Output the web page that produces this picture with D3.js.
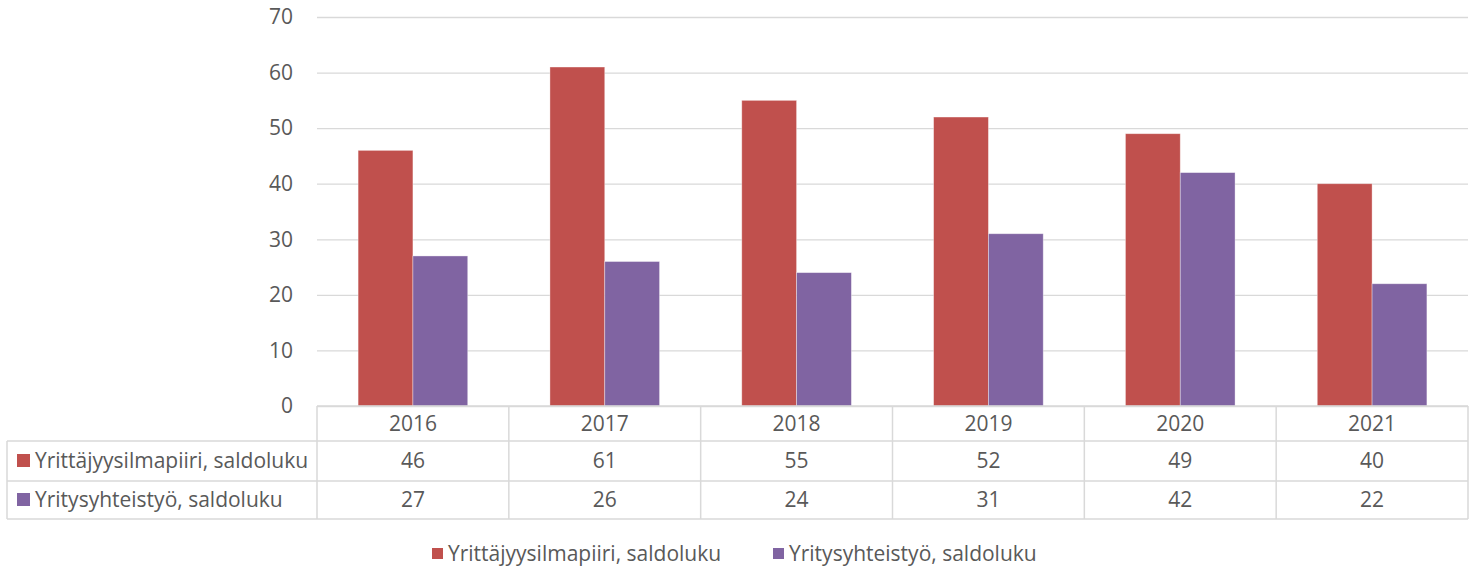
<!DOCTYPE html>
<html>
<head>
<meta charset="utf-8">
<script src="https://cdn.jsdelivr.net/npm/d3@7"></script>
<style>
  body { margin: 0; background: #fff; }
  svg text { font-family: "Open Sans", sans-serif; fill: #595959; }
</style>
</head>
<body>
<svg id="chart" width="1480" height="568"></svg>
<script>
// chart data
var years = ["2016", "2017", "2018", "2019", "2020", "2021"];
var seriesNames = ["Yrittäjyysilmapiiri, saldoluku", "Yritysyhteistyö, saldoluku"];
var ilmapiiri = [46, 61, 55, 52, 49, 40];
var yhteistyo = [27, 26, 24, 31, 42, 22];
var yTicks = [0, 10, 20, 30, 40, 50, 60, 70];
var colors = ["#C0504D", "#8064A2"];

var seriesValues = [ilmapiiri, yhteistyo];

var svg = d3.select("#chart");
var fontSize = 21;

var plotLeft = 317, plotRight = 1468, plotTop = 17, plotBottom = 406;
var tableLeft = 7;
var rowTops = [406, 441, 481, 519];

var x0 = d3.scaleBand()
  .domain(years)
  .range([plotLeft, plotRight])
  .padding(0);
var x1 = d3.scaleBand()
  .domain(d3.range(seriesNames.length))
  .range([0, x0.bandwidth()])
  .paddingInner(0)
  .paddingOuter(0.75);
var y = d3.scaleLinear()
  .domain([0, 70])
  .range([plotBottom, plotTop]);

// gridlines + y labels
var yAxis = svg.append("g")
  .attr("transform", "translate(" + plotLeft + ",0)")
  .call(d3.axisLeft(y).tickValues(yTicks).tickSize(-(plotRight - plotLeft)).tickPadding(24));
yAxis.select(".domain").remove();
yAxis.selectAll(".tick line").attr("stroke", "#D9D9D9").attr("stroke-width", 1.3);
yAxis.selectAll(".tick text")
  .attr("font-size", fontSize)
  .attr("font-family", "'Open Sans', sans-serif")
  .style("fill", "#595959");

// bars
var groups = svg.append("g").selectAll("g")
  .data(years)
  .join("g")
  .attr("transform", function(d) { return "translate(" + x0(d) + ",0)"; });

groups.selectAll("rect")
  .data(function(d, i) { return seriesValues.map(function(s, k) { return {k: k, v: s[i]}; }); })
  .join("rect")
  .attr("x", function(d) { return x1(d.k); })
  .attr("width", x1.bandwidth())
  .attr("y", function(d) { return y(d.v); })
  .attr("height", function(d) { return y(0) - y(d.v); })
  .attr("fill", function(d) { return colors[d.k]; })
  .attr("stroke", "#fff")
  .attr("stroke-opacity", 0.45)
  .attr("stroke-width", 0.8);

// data table
var table = svg.append("g");
var border = "#D9D9D9";

// horizontal lines
table.append("line")
  .attr("x1", plotLeft).attr("x2", plotRight)
  .attr("y1", rowTops[0]).attr("y2", rowTops[0])
  .attr("stroke", border).attr("stroke-width", 1.5);
[rowTops[1], rowTops[2], rowTops[3]].forEach(function(yy) {
  table.append("line")
    .attr("x1", tableLeft).attr("x2", plotRight)
    .attr("y1", yy).attr("y2", yy)
    .attr("stroke", border).attr("stroke-width", 1.5);
});
// vertical lines
table.append("line")
  .attr("x1", tableLeft).attr("x2", tableLeft)
  .attr("y1", rowTops[1]).attr("y2", rowTops[3])
  .attr("stroke", border).attr("stroke-width", 1.5);
years.forEach(function(yr) {
  table.append("line")
    .attr("x1", x0(yr)).attr("x2", x0(yr))
    .attr("y1", rowTops[0]).attr("y2", rowTops[3])
    .attr("stroke", border).attr("stroke-width", 1.5);
});
table.append("line")
  .attr("x1", plotRight).attr("x2", plotRight)
  .attr("y1", rowTops[0]).attr("y2", rowTops[3])
  .attr("stroke", border).attr("stroke-width", 1.5);

// header years
table.selectAll("text.year")
  .data(years)
  .join("text")
  .attr("class", "year")
  .attr("x", function(d) { return x0(d) + x0.bandwidth() / 2; })
  .attr("y", (rowTops[0] + rowTops[1]) / 2)
  .attr("dy", "0.35em")
  .attr("text-anchor", "middle")
  .attr("font-size", fontSize)
  .text(function(d) { return d; });

// rows
seriesNames.forEach(function(name, k) {
  var cy = (rowTops[k + 1] + rowTops[k + 2]) / 2;
  table.append("rect")
    .attr("x", 17).attr("y", cy - 7)
    .attr("width", 13).attr("height", 13)
    .attr("fill", colors[k]);
  table.append("text")
    .attr("x", 35).attr("y", cy)
    .attr("dy", "0.35em")
    .attr("font-size", fontSize)
    .text(name);
  table.selectAll("text.v" + k)
    .data(seriesValues[k])
    .join("text")
    .attr("class", "v" + k)
    .attr("x", function(d, i) { return x0(years[i]) + x0.bandwidth() / 2; })
    .attr("y", cy)
    .attr("dy", "0.35em")
    .attr("text-anchor", "middle")
    .attr("font-size", fontSize)
    .text(function(d) { return d; });
});

// legend
var legendX = [432, 773];
var legend = svg.append("g");
seriesNames.forEach(function(name, k) {
  legend.append("rect")
    .attr("x", legendX[k]).attr("y", 548)
    .attr("width", 11).attr("height", 11)
    .attr("fill", colors[k]);
  legend.append("text")
    .attr("x", legendX[k] + 16).attr("y", 553.5)
    .attr("dy", "0.35em")
    .attr("font-size", fontSize)
    .text(name);
});
</script>
</body>
</html>
